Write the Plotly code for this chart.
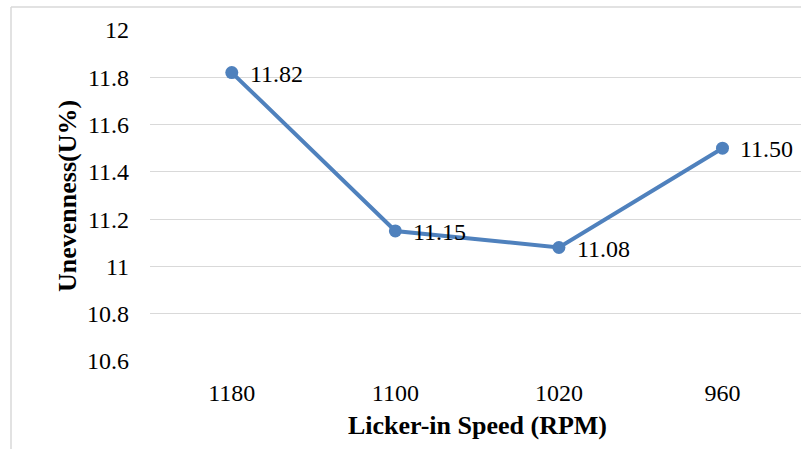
import plotly.graph_objects as go

speeds = ["1180", "1100", "1020", "960"]
unevenness = [11.82, 11.15, 11.08, 11.50]
y_ticks = [10.6, 10.8, 11.0, 11.2, 11.4, 11.6, 11.8, 12.0]
y_tick_labels = ["10.6", "10.8", "11", "11.2", "11.4", "11.6", "11.8", "12"]

W, H = 801, 449
L, R, T, B = 150, 0, 30, 88
pw, ph = W - L - R, H - T - B

def px(x):
    return (x - L) / pw

def py(y):
    return (H - B - y) / ph

FONT = "Liberation Serif, Times New Roman, serif"
BLUE = "#4F81BD"
GRID = "#D9D9D9"

fig = go.Figure()
fig.add_trace(go.Scatter(
    x=speeds, y=unevenness,
    mode="lines+markers",
    line=dict(color=BLUE, width=4),
    marker=dict(color=BLUE, size=13),
    cliponaxis=False,
    showlegend=False,
))

annotations = [
    dict(text=f"{v:.2f}", x=i, y=v, xref="x", yref="y", showarrow=False,
         xanchor="left", yanchor="middle", xshift=16, yshift=-1,
         font=dict(family=FONT, size=24, color="black"))
    for i, v in enumerate(unevenness)
]
annotations += [
    dict(text="<b>Licker-in Speed (RPM)</b>", xref="paper", yref="paper",
         x=px(477), y=py(425), showarrow=False, xanchor="center", yanchor="middle",
         font=dict(family=FONT, size=26, color="black")),
    dict(text="<b>Unevenness(U%)</b>", xref="paper", yref="paper",
         x=px(67), y=py(196), showarrow=False, xanchor="center", yanchor="middle",
         textangle=-90, font=dict(family=FONT, size=26, color="black")),
]

fig.update_layout(
    width=W, height=H,
    margin=dict(l=L, r=R, t=T, b=B, pad=0),
    paper_bgcolor="white", plot_bgcolor="white",
    font=dict(family=FONT, size=24, color="black"),
    xaxis=dict(
        type="category", range=[-0.5, 3.48],
        showgrid=False, zeroline=False, showline=False,
        ticks="", ticklabelstandoff=15,
        tickfont=dict(family=FONT, size=24, color="black"),
        fixedrange=True,
    ),
    yaxis=dict(
        range=[10.5999, 12.0001],
        tickvals=y_ticks, ticktext=y_tick_labels,
        showgrid=True, gridcolor=GRID, gridwidth=1.3,
        zeroline=False, showline=False, ticks="",
        ticklabelstandoff=20,
        tickfont=dict(family=FONT, size=24, color="black"),
        fixedrange=True,
    ),
    annotations=annotations,
    shapes=[
        dict(type="line", xref="paper", yref="paper",
             x0=px(11), x1=px(11), y0=py(7), y1=py(460),
             line=dict(color=GRID, width=1.5)),
        dict(type="line", xref="paper", yref="paper",
             x0=px(11), x1=px(820), y0=py(7), y1=py(7),
             line=dict(color=GRID, width=1.5)),
    ],
)

fig.write_html("out.html")
